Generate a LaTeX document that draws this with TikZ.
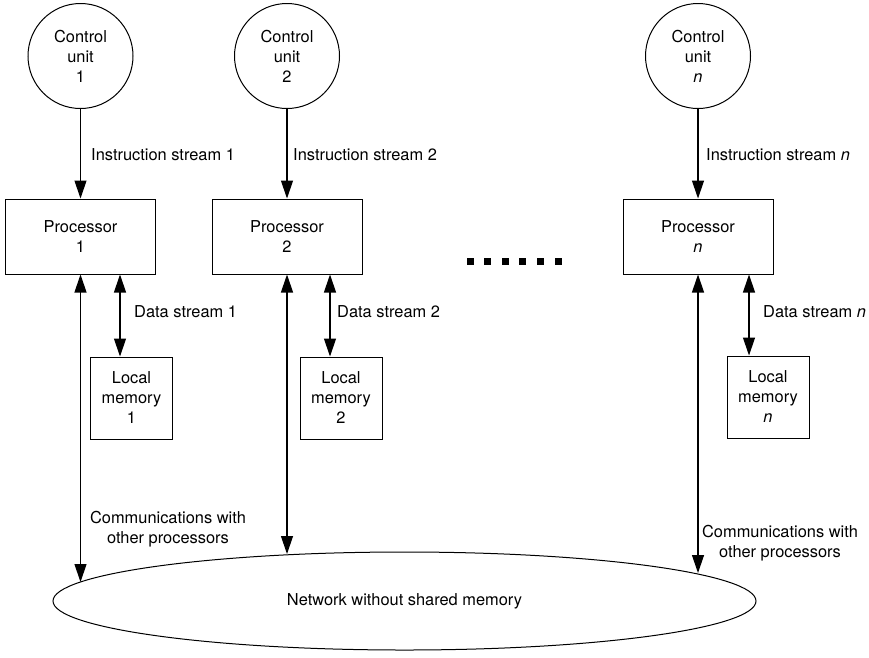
\documentclass[tikz,border=0pt]{standalone}
\usepackage{fontspec}
\setmainfont{TeX Gyre Heros}
\usetikzlibrary{shapes.geometric,arrows.meta}

\begin{document}
\begin{tikzpicture}[x=1pt, y=-1pt,
        every node/.style={font=\fontsize{16.4}{20}\selectfont},
        >={Triangle[length=18pt,width=12pt]},
        unidad/.style={circle, draw, line width=1pt, minimum size=105pt, inner sep=0pt, align=center},
        proc/.style={draw, line width=1pt, minimum width=150pt, minimum height=75pt, align=center},
        mem/.style={draw, line width=1pt, minimum width=82pt, minimum height=82pt, align=center},
        etiqueta/.style={anchor=west, inner sep=0pt},
        flujo/.style={line width=1.2pt}]
        \useasboundingbox (0,0) rectangle (869,657);

        % Unidades de control
        \node[unidad] (cu1) at (80.5,56) {Control\\unit\\1};
        \node[unidad] (cu2) at (287,56) {Control\\unit\\2};
        \node[unidad] (cun) at (698,56) {Control\\unit\\\textit{n}};

        % Procesadores
        \node[proc] (p1) at (80.5,236.5) {Processor\\1};
        \node[proc] (p2) at (287,236.5) {Processor\\2};
        \node[proc] (pn) at (698,236.5) {Processor\\\textit{n}};

        % Memorias locales
        \node[mem] (m1) at (131.5,398) {Local\\memory\\1};
        \node[mem] (m2) at (341,398) {Local\\memory\\2};
        \node[mem] (mn) at (768,397) {Local\\memory\\\textit{n}};

        % Red
        \node[ellipse, draw, line width=1pt, minimum width=703pt, minimum height=98pt] (net) at (404.5,601) {Network without shared memory};
        \coordinate (t1) at (80.5,582);
        \coordinate (t2) at (287,554);
        \coordinate (tn) at (698,573);

        % Flujos de instrucciones
        \draw[flujo, ->] (cu1) -- (p1);
        \draw[flujo, ->] (cu2) -- (p2);
        \draw[flujo, ->] (cun) -- (pn);
        \node[etiqueta] (is1) at (91,155) {Instruction stream 1};
        \node[etiqueta] (is2) at (293,155) {Instruction stream 2};
        \node[etiqueta] (isn) at (706,155) {Instruction stream \textit{n}};

        % Flujos de datos
        \draw[flujo, <->] ([xshift=-11.5pt]m1.north) -- ([xshift=-11.5pt]m1.north |- p1.south);
        \draw[flujo, <->] ([xshift=-11pt]m2.north) -- ([xshift=-11pt]m2.north |- p2.south);
        \draw[flujo, <->] ([xshift=-19pt]mn.north) -- ([xshift=-19pt]mn.north |- pn.south);
        \node[etiqueta] (ds1) at (134,312) {Data stream 1};
        \node[etiqueta] (ds2) at (337,312) {Data stream 2};
        \node[etiqueta] (dsn) at (763,312) {Data stream \textit{n}};

        % Comunicaciones
        \draw[flujo, <->] (p1.south) -- (t1);
        \draw[flujo, <->] (p2.south) -- (t2);
        \draw[flujo, <->] (pn.south) -- (tn);
        \node[align=center] (com1) at (168,529) {Communications with\\other processors};
        \node[align=center] (comn) at (780,543) {Communications with\\other processors};

        % Puntos
        \foreach \i in {0,...,5}
            \fill (466.5+17.6*\i,257.5) rectangle ++(7,7);
\end{tikzpicture}
\end{document}
